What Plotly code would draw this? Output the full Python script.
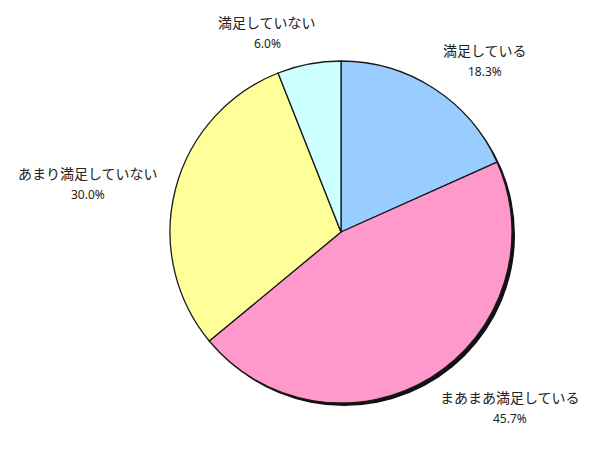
import plotly.graph_objects as go

# Satisfaction survey shares (%)
categories = ["満足している", "まあまあ満足している", "あまり満足していない", "満足していない"]
shares = [18.3, 45.7, 30.0, 6.0]
slice_colors = ["#99CCFF", "#FF99CC", "#FFFF99", "#CCFFFF"]

W, H = 611, 457
cx, cy, r = 341, 232, 171  # pie centre and radius in pixels (y from top)
shadow_dx, shadow_dy = 3, 3


def domain(px, py):
    return dict(
        x=[(px - r) / W, (px + r) / W],
        y=[(H - py - r) / H, (H - py + r) / H],
    )


fig = go.Figure()

# drop shadow under the pie
fig.add_trace(go.Pie(
    values=[1], labels=["shadow"], marker=dict(colors=["#111111"], line=dict(width=0)),
    textinfo="none", hoverinfo="skip", sort=False, showlegend=False,
    domain=domain(cx + shadow_dx, cy + shadow_dy),
))

fig.add_trace(go.Pie(
    values=shares, labels=categories, sort=False, direction="clockwise", rotation=0,
    marker=dict(colors=slice_colors, line=dict(color="#1a1a1a", width=1.3)),
    textinfo="none", showlegend=False,
    domain=domain(cx, cy),
))

# label positions (pixels) for each slice
label_pos = [(485, 50), (510, 397), (88, 173), (267, 22)]
font = dict(family="Noto Sans CJK JP, sans-serif", size=14, color="#222222")
for name, val, (lx, ly) in zip(categories, shares, label_pos):
    fig.add_annotation(
        x=lx / W, y=1 - ly / H, xref="paper", yref="paper", showarrow=False,
        text=name, font=font, xanchor="center", yanchor="middle",
    )
    fig.add_annotation(
        x=lx / W, y=1 - (ly + 21) / H, xref="paper", yref="paper", showarrow=False,
        text=f"{val:.1f}%", font=dict(family="Noto Sans, sans-serif", size=12, color="#222222"),
        xanchor="center", yanchor="middle",
    )

fig.update_layout(
    width=W, height=H, margin=dict(l=0, r=0, t=0, b=0),
    paper_bgcolor="white", plot_bgcolor="white",
)

fig.write_html("out.html")
